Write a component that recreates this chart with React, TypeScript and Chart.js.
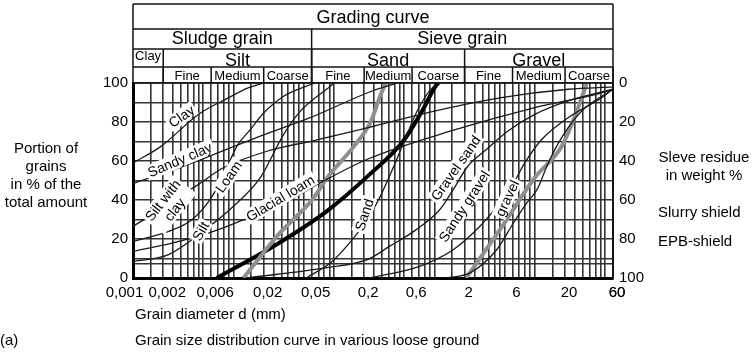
import React, { useEffect, useRef } from "react";
import { Chart, registerables } from "chart.js";

Chart.register(...registerables);

const FONT = '"Liberation Sans", Arial, Helvetica, sans-serif';

// ---- axes ----
const X_MIN = 0.001;
const X_MAX = 60;
const xLabelValues = [0.001, 0.002, 0.006, 0.02, 0.06, 0.2, 0.6, 2, 6, 20, 60];
const xLabelTexts = ["0,001      ", "0,002", "0,006", "0,02", "0,05", "0,2", "0,6", "2", "6", "20", "60"];
const xGridMantissas = [1, 1.5, 2, 2.5, 3, 3.5, 4, 4.5, 5, 6, 7, 8, 9];
const xGridDecades = [0.001, 0.01, 0.1, 1, 10];
const yLeftLabels = [0, 20, 40, 60, 80, 100];
const yGridValues = [0, 7.5, 10, 20, 30, 40, 50, 60, 70, 80, 90, 100];
const yRightLabels = [0, 20, 40, 60, 80, 100];

// ---- header table ----
const headerTitle = "Grading curve";
const groupNames = ["Sludge grain", "Sieve grain"];
const groupBounds = [0.001, 0.06, 60];
const soilNames = ["Clay", "Silt", "Sand", "Gravel"];
const soilBounds = [0.001, 0.002, 0.06, 2, 60];
const fractionNames = ["Fine", "Medium", "Coarse", "Fine", "Medium", "Coarse", "Fine", "Medium", "Coarse"];
const fractionBounds = [0.002, 0.006, 0.02, 0.06, 0.2, 0.6, 2, 6, 20, 60];

// ---- grading curves: [grain diameter mm, passing %] ----
const clay = [[0.001, 59], [0.0019, 67.5], [0.0045, 84], [0.0086, 92], [0.014, 97.5], [0.02, 100]];
const sandyClay = [[0.001, 48.5], [0.0027, 56], [0.0058, 62.5], [0.0185, 72.8], [0.058, 82.2], [0.24, 95.9], [0.4, 99.5]];
const siltWithClay = [[0.001, 26.5], [0.0016, 33], [0.0025, 40], [0.0045, 48], [0.0076, 56], [0.0215, 65], [0.063, 70.5], [0.215, 77], [1.0, 85.6], [4.64, 92.5], [21.5, 96.8], [60, 98]];
const loam = [[0.001, 18.8], [0.00226, 23.9], [0.00386, 29.9], [0.00584, 40.2], [0.0079, 52.1], [0.0108, 67.5], [0.0147, 76.1], [0.02, 84.6], [0.0316, 93.2], [0.054, 98.5], [0.065, 100]];
const silt = [[0.001, 8.5], [0.00226, 12], [0.005, 24], [0.01, 36.8], [0.0185, 51.5], [0.0316, 73.7], [0.0464, 85.6], [0.0926, 98.5], [0.1, 100]];
const glacialLoam = [[0.001, 13.7], [0.0025, 18], [0.006, 23.5], [0.0121, 29.5], [0.0292, 37.5], [0.063, 47], [0.215, 60.9], [1.46, 75.4], [10, 87.4], [46.4, 95], [60, 96.8]];
const sand = [[0.053, 0], [0.096, 8.5], [0.153, 19.8], [0.215, 30], [0.29, 42], [0.4, 58], [0.5, 70], [0.68, 86], [0.93, 97], [1.1, 100]];
const gravelSand = [[0.0136, 0], [0.0858, 5.3], [0.215, 9.4], [0.357, 16.2], [0.661, 24.8], [1.13, 35], [1.54, 45.3], [2.15, 57.3], [3.16, 65.1], [5.41, 75.4], [10, 83.9], [21.5, 90.8], [60, 96.8]];
const sandyGravel = [[0.225, 0], [0.713, 6], [1.54, 14.5], [2.84, 26.5], [4.5, 38.5], [5.66, 45.3], [7.94, 59], [11.7, 71], [21.5, 82.2], [46.4, 92.5], [60, 96.8]];
const gravel = [[1.32, 0], [2.26, 2.6], [4.17, 14.5], [6.12, 28.2], [8.32, 38.5], [10.5, 45.3], [13.6, 59], [18.5, 72], [29.3, 85.6], [60, 96.8]];
// application limits
const slurryFine = [[0.0126, 0], [0.0271, 21.4], [0.0631, 41.2], [0.0858, 51.5], [0.158, 67.5], [0.232, 80], [0.292, 94], [0.328, 100]];
const slurryCoarse = [[2.07, 0], [4.64, 25.8], [10, 51.5], [18.5, 67.5], [25.1, 82.9], [32.9, 100]];
const epbLimit = [[0.0068, 0], [0.0271, 17.3], [0.0858, 34.4], [0.2256, 53], [0.486, 70], [0.736, 84.6], [1.05, 99], [1.1, 100]];

const thinCurves = [clay, sandyClay, siltWithClay, loam, silt, glacialLoam, sand, gravelSand, sandyGravel, gravel];

const curveLabels = [
  { text: "Clay", d: 0.00304, p: 82.9, angle: -35 },
  { text: "Sandy clay", d: 0.00293, p: 60.7, angle: -23 },
  { text: "Silt with\nclay", d: 0.00226, p: 37.5, angle: -52 },
  { text: "Loam", d: 0.00894, p: 52, angle: -55 },
  { text: "Silt", d: 0.00471, p: 24, angle: -60 },
  { text: "Glacial loam", d: 0.0292, p: 41, angle: -31 },
  { text: "Sand", d: 0.2, p: 32.5, angle: -72 },
  { text: "Gravel sand", d: 1.63, p: 56.4, angle: -55 },
  { text: "Sandy gravel", d: 1.98, p: 36.8, angle: -57 },
  { text: "gravel", d: 5.3, p: 41, angle: -65 },
];

const xGridValues = xGridDecades
  .flatMap((dec) => xGridMantissas.map((m) => +(m * dec).toPrecision(6)))
  .filter((v) => v <= X_MAX)
  .concat([X_MAX]);

function xLabelFor(v: number) {
  const i = xLabelValues.findIndex((lv) => Math.abs(v / lv - 1) < 1e-6);
  return i >= 0 ? xLabelTexts[i] : "";
}

const headerPlugin = {
  id: "header",
  afterDraw(chart: any) {
    const ctx = chart.ctx as CanvasRenderingContext2D;
    const xs = chart.scales.x;
    const px = (v: number) => xs.getPixelForValue(v);
    const L = px(X_MIN);
    const R = px(X_MAX);
    const rows = [4, 29, 49, 67, chart.chartArea.top];
    ctx.save();
    ctx.strokeStyle = "#111";
    ctx.lineWidth = 1.5;
    const line = (x1: number, y1: number, x2: number, y2: number) => {
      ctx.beginPath();
      ctx.moveTo(x1, y1);
      ctx.lineTo(x2, y2);
      ctx.stroke();
    };
    rows.forEach((r) => line(L, r, R, r));
    line(L, rows[0], L, rows[4]);
    line(R, rows[0], R, chart.chartArea.bottom);
    groupBounds.slice(1, -1).forEach((v) => line(px(v), rows[1], px(v), rows[4]));
    soilBounds.slice(1, -1).forEach((v) => line(px(v), rows[2], px(v), rows[4]));
    fractionBounds.forEach((v) => line(px(v), rows[3], px(v), rows[4]));

    ctx.fillStyle = "#000";
    ctx.textAlign = "center";
    ctx.textBaseline = "alphabetic";
    ctx.font = `18px ${FONT}`;
    ctx.fillText(headerTitle, (L + R) / 2, 23);
    groupNames.forEach((n, i) => {
      ctx.fillText(n, (px(groupBounds[i]) + px(groupBounds[i + 1])) / 2, 44);
    });
    soilNames.forEach((n, i) => {
      const cx = (px(soilBounds[i]) + px(soilBounds[i + 1])) / 2;
      if (i === 0) {
        ctx.font = `13px ${FONT}`;
        ctx.fillText(n, cx, 60);
      } else {
        ctx.font = `18px ${FONT}`;
        ctx.fillText(n, cx, 66);
      }
    });
    ctx.font = `13px ${FONT}`;
    fractionNames.forEach((n, i) => {
      ctx.fillText(n, (px(fractionBounds[i]) + px(fractionBounds[i + 1])) / 2, 80);
    });
    ctx.restore();
  },
};

const labelPlugin = {
  id: "curveLabels",
  afterDatasetsDraw(chart: any) {
    const ctx = chart.ctx as CanvasRenderingContext2D;
    const xs = chart.scales.x;
    const ys = chart.scales.y;
    ctx.save();
    ctx.font = `14px ${FONT}`;
    const lineH = 15;
    curveLabels.forEach((lab) => {
      const x = xs.getPixelForValue(lab.d);
      const y = ys.getPixelForValue(lab.p);
      const lines = lab.text.split("\n");
      const w = Math.max(...lines.map((t) => ctx.measureText(t).width));
      const h = lines.length * lineH;
      ctx.save();
      ctx.translate(x, y);
      ctx.rotate((lab.angle * Math.PI) / 180);
      ctx.fillStyle = "#fff";
      ctx.fillRect(-w / 2 - 2, -h / 2, w + 4, h);
      ctx.fillStyle = "#000";
      ctx.textAlign = "center";
      ctx.textBaseline = "middle";
      lines.forEach((t, i) => ctx.fillText(t, 0, -h / 2 + lineH * (i + 0.5) + 1));
      ctx.restore();
    });
    ctx.restore();
  },
};

function toPoints(arr: number[][]) {
  return arr.map(([x, y]) => ({ x, y }));
}

export default function App() {
  const ref = useRef<HTMLCanvasElement | null>(null);

  useEffect(() => {
    const canvas = ref.current;
    if (!canvas) return;
    const base = {
      showLine: true,
      pointRadius: 0,
      fill: false,
      cubicInterpolationMode: "monotone" as const,
      xAxisID: "x",
      yAxisID: "y",
    };
    const datasets: any[] = thinCurves.map((c) => ({
      ...base,
      data: toPoints(c),
      borderColor: "#1a1a1a",
      borderWidth: 1.3,
    }));
    datasets.push({ ...base, data: toPoints(slurryFine), borderColor: "#8f8f8f", borderWidth: 4 });
    datasets.push({ ...base, data: toPoints(slurryCoarse), borderColor: "#8f8f8f", borderWidth: 4 });
    datasets.push({ ...base, data: toPoints(epbLimit), borderColor: "#000", borderWidth: 4 });

    const tickFont = { family: FONT, size: 15 };
    const gridStyle = { color: "#333", lineWidth: 1.6, drawTicks: false };
    const chart = new Chart(canvas, {
      type: "scatter",
      data: { datasets },
      options: {
        responsive: false,
        animation: false,
        devicePixelRatio: 1,
        layout: { padding: { top: 83, left: 0, right: 0, bottom: 0 } },
        plugins: { legend: { display: false }, tooltip: { enabled: false } },
        scales: {
          x: {
            type: "logarithmic",
            min: X_MIN,
            max: X_MAX,
            bounds: "data",
            afterBuildTicks: (s: any) => {
              s.ticks = xGridValues.map((v) => ({ value: v }));
            },
            afterFit: (s: any) => {
              s.height = 77;
            },
            grid: gridStyle,
            border: { display: true, color: "#000", width: 3 },
            ticks: {
              autoSkip: false,
              maxRotation: 0,
              minRotation: 0,
              padding: 6,
              labelOffset: 4,
              color: "#000",
              font: tickFont,
              callback: (v: any) => xLabelFor(Number(v)),
            },
          },
          y: {
            type: "linear",
            position: "left",
            min: 0,
            max: 100,
            afterBuildTicks: (s: any) => {
              s.ticks = yGridValues.map((v) => ({ value: v }));
            },
            afterFit: (s: any) => {
              s.width = 133;
            },
            grid: gridStyle,
            border: { display: true, color: "#000", width: 3 },
            ticks: {
              autoSkip: false,
              padding: 5,
              color: "#000",
              font: tickFont,
              callback: (v: any) => (yLeftLabels.includes(Number(v)) ? String(v) : ""),
            },
          },
          y2: {
            type: "linear",
            position: "right",
            min: 0,
            max: 100,
            reverse: true,
            afterBuildTicks: (s: any) => {
              s.ticks = yRightLabels.map((v) => ({ value: v }));
            },
            afterFit: (s: any) => {
              s.width = 143;
            },
            grid: { display: false, drawTicks: false },
            border: { display: true, color: "#111", width: 1.5 },
            ticks: { autoSkip: false, padding: 6, color: "#000", font: tickFont },
          },
        },
      } as any,
      plugins: [headerPlugin, labelPlugin],
    });
    return () => chart.destroy();
  }, []);

  const text: React.CSSProperties = {
    position: "absolute",
    fontFamily: FONT,
    fontSize: 15,
    color: "#000",
    lineHeight: "18px",
    whiteSpace: "nowrap",
  };

  return (
    <div style={{ position: "fixed", left: 0, top: 0, width: 756, height: 355, background: "#fff" }}>
      <canvas ref={ref} width={756} height={355} style={{ position: "absolute", left: 0, top: 0 }} />
      <div style={{ ...text, left: 0, top: 139, width: 92, textAlign: "center" }}>
        Portion of<br />grains<br />in % of the<br />total amount
      </div>
      <div style={{ ...text, left: 652, top: 148, width: 104, textAlign: "center" }}>
        Sleve residue<br />in weight %
      </div>
      <div style={{ ...text, left: 658, top: 203 }}>Slurry shield</div>
      <div style={{ ...text, left: 658, top: 232 }}>EPB-shield</div>
      <div style={{ ...text, left: 135, top: 305 }}>Grain diameter d (mm)</div>
      <div style={{ ...text, left: 0, top: 331 }}>(a)</div>
      <div style={{ ...text, left: 135, top: 331 }}>Grain size distribution curve in various loose ground</div>
    </div>
  );
}
